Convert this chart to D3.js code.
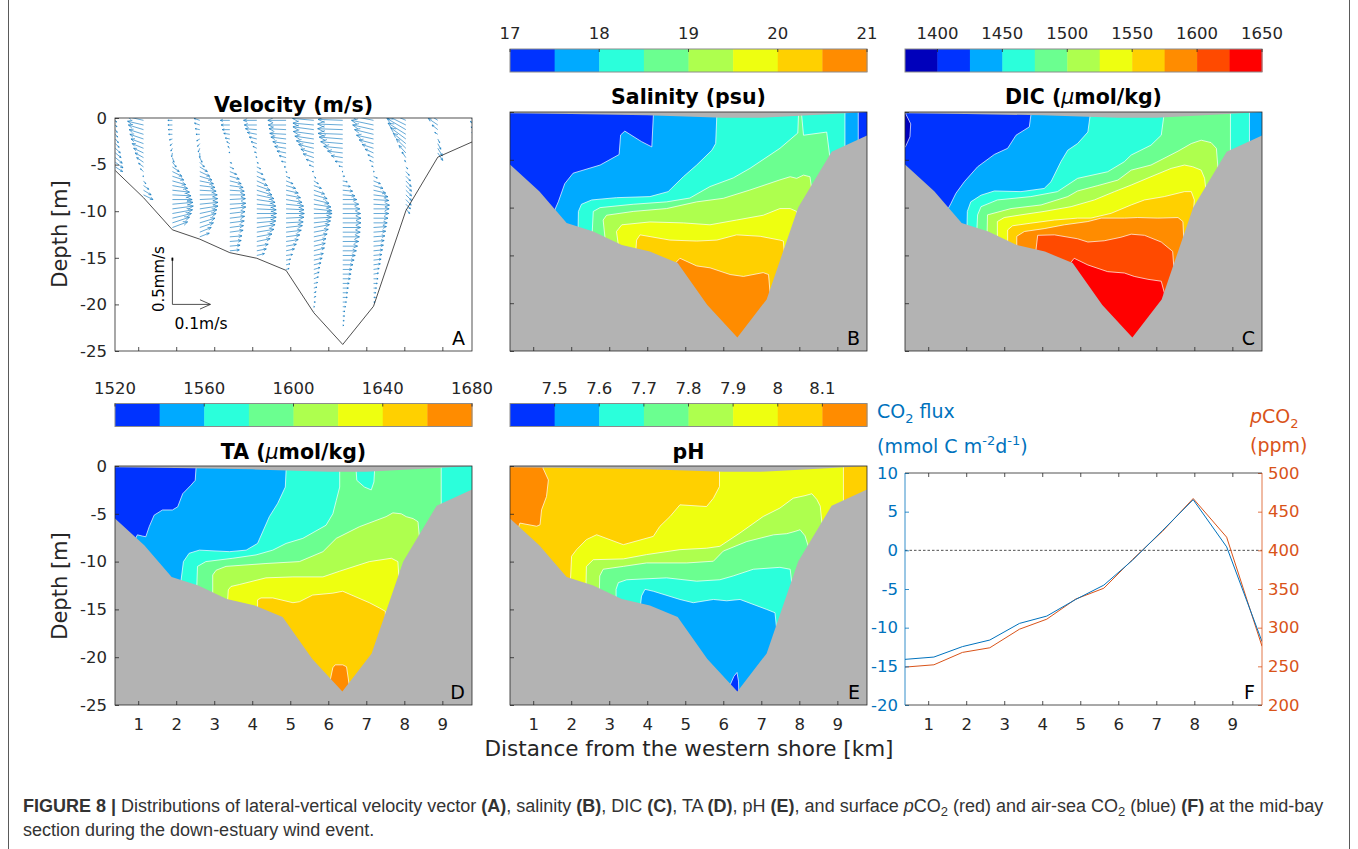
<!DOCTYPE html>
<html>
<head>
<meta charset="utf-8">
<title>Figure 8 - mid-bay section, down-estuary wind event</title>
<script src="https://cdn.jsdelivr.net/npm/d3@7/dist/d3.min.js"></script>
<style>
  body { margin: 0; background: #fff; }
  svg text { font-family: 'DejaVu Sans', sans-serif; }
  svg .caption { font-family: 'Liberation Sans', Arial, sans-serif; }
</style>
</head>
<body>
<svg id="fig" width="1358" height="849"></svg>
<script>
// ============================================================
// Data (km from western shore, depth in m)
// ============================================================
const KM_TICKS = [1, 2, 3, 4, 5, 6, 7, 8, 9];
const DEPTH_TICKS = [-25, -20, -15, -10, -5, 0];

// velocity stations, bottom under each, and profiles (first bin 0.25 m, then every 0.5 m)
const velStations = [0.4, 1.14, 1.9, 2.62, 3.41, 4.12, 4.89, 5.62, 6.38, 7.19, 8.04, 8.88, 9.82];
const velBottom = [-5.65, -8.55, -12.0, -13.0, -14.45, -15.05, -16.35, -20.9, -24.3, -20.2, -9.95, -4.2, -2.5];
const velU = [ // lateral velocity, m/s
    [0.003, 0.004, 0.005, 0.006, 0.008, 0.01, 0.013, 0.015, 0.018, 0.02, 0.019],
    [-0.043, -0.042, -0.04, -0.038, -0.036, -0.033, -0.03, -0.026, -0.022, -0.018, -0.013, -0.008, -0.002, 0.006, 0.014, 0.02, 0.025],
    [-0.012, -0.012, -0.011, -0.01, -0.008, -0.006, -0.004, -0.002, 0.004, 0.01, 0.018, 0.025, 0.03, 0.035, 0.04, 0.045, 0.049, 0.052, 0.054, 0.055, 0.053, 0.05, 0.045, 0.04],
    [-0.015, -0.014, -0.012, -0.01, -0.008, -0.006, -0.004, 0, 0.006, 0.012, 0.02, 0.026, 0.032, 0.036, 0.04, 0.043, 0.046, 0.047, 0.048, 0.048, 0.045, 0.043, 0.04, 0.036, 0.03, 0.025],
    [-0.025, -0.023, -0.02, -0.016, -0.012, -0.008, -0.005, -0.002, 0, 0.005, 0.01, 0.018, 0.025, 0.03, 0.035, 0.038, 0.04, 0.041, 0.042, 0.042, 0.04, 0.039, 0.038, 0.036, 0.035, 0.032, 0.03, 0.027, 0.025],
    [-0.035, -0.033, -0.03, -0.025, -0.02, -0.015, -0.01, -0.006, -0.002, 0.004, 0.01, 0.016, 0.022, 0.028, 0.035, 0.04, 0.045, 0.048, 0.05, 0.051, 0.052, 0.051, 0.05, 0.048, 0.045, 0.04, 0.035, 0.03, 0.025, 0.02],
    [-0.048, -0.047, -0.045, -0.043, -0.04, -0.035, -0.03, -0.024, -0.018, -0.012, -0.005, 0.002, 0.01, 0.018, 0.025, 0.032, 0.038, 0.042, 0.046, 0.047, 0.048, 0.047, 0.045, 0.043, 0.04, 0.036, 0.032, 0.027, 0.022, 0.017, 0.012, 0.01, 0.008],
    [-0.056, -0.055, -0.055, -0.054, -0.05, -0.046, -0.04, -0.034, -0.028, -0.02, -0.012, -0.004, 0.005, 0.012, 0.02, 0.028, 0.035, 0.04, 0.045, 0.047, 0.048, 0.046, 0.044, 0.041, 0.038, 0.035, 0.032, 0.03, 0.028, 0.025, 0.022, 0.019, 0.016, 0.014, 0.012, 0.01, 0.008, 0.006, 0.005, 0.004, 0.002, 0.001],
    [-0.065, -0.066, -0.066, -0.065, -0.062, -0.058, -0.05, -0.04, -0.03, -0.02, -0.01, -0.002, 0.005, 0.012, 0.02, 0.026, 0.032, 0.037, 0.042, 0.045, 0.047, 0.048, 0.048, 0.047, 0.046, 0.044, 0.042, 0.039, 0.036, 0.033, 0.03, 0.027, 0.024, 0.022, 0.02, 0.017, 0.015, 0.013, 0.012, 0.01, 0.008, 0.006, 0.005, 0.004, 0.003],
    [-0.06, -0.058, -0.055, -0.05, -0.045, -0.038, -0.03, -0.022, -0.015, -0.01, -0.005, 0.002, 0.01, 0.018, 0.025, 0.032, 0.038, 0.04, 0.042, 0.041, 0.04, 0.038, 0.036, 0.034, 0.032, 0.03, 0.028, 0.026, 0.024, 0.022, 0.02, 0.018, 0.015, 0.013, 0.012, 0.01, 0.008, 0.006, 0.005, 0.004],
    [-0.055, -0.054, -0.05, -0.047, -0.04, -0.033, -0.025, -0.018, -0.01, -0.003, 0.005, 0.009, 0.012, 0.014, 0.015, 0.015, 0.015, 0.014, 0.012, 0.01],
    [-0.03, -0.025, -0.015, -0.008, 0.005, 0.008, 0.012, 0.013],
    [-0.01, -0.008, -0.006, -0.004, -0.003]
];
const velW = [ // vertical velocity, mm/s
    [-0.02, -0.02, -0.03, -0.03, -0.04, -0.04, -0.05, -0.05, -0.06, -0.06, -0.05],
    [0.04, 0.04, 0.05, 0.05, 0.05, 0.05, 0.05, 0.05, 0.05, 0.05, 0.04, 0.03, 0, -0.03, -0.04, -0.05, -0.05],
    [0, 0, 0, 0, -0.01, -0.02, -0.03, -0.04, -0.05, -0.05, -0.05, -0.05, -0.04, -0.04, -0.03, -0.02, -0.01, 0, 0.02, 0.03, 0.04, 0.05, 0.06, 0.06],
    [0.02, 0.02, 0.01, 0, -0.02, -0.03, -0.04, -0.05, -0.05, -0.05, -0.05, -0.05, -0.04, -0.03, -0.02, -0.01, 0, 0.01, 0.02, 0.03, 0.04, 0.05, 0.05, 0.05, 0.05, 0.04],
    [0, 0, 0, 0.01, 0.01, 0.02, 0.02, 0.01, 0, -0.01, -0.02, -0.03, -0.03, -0.03, -0.02, -0.01, 0, 0.01, 0.01, 0.02, 0.02, 0.02, 0.02, 0.02, 0.02, 0.01, 0.01, 0.01, 0.01],
    [0, 0, 0.01, 0.02, 0.02, 0.02, 0.02, 0.01, 0.01, -0.01, -0.02, -0.03, -0.04, -0.05, -0.05, -0.05, -0.04, -0.03, -0.02, -0.01, 0, 0.01, 0.02, 0.03, 0.03, 0.03, 0.03, 0.02, 0.02, 0.02],
    [0, 0, 0.01, 0.01, 0.02, 0.02, 0.02, 0.02, 0.02, 0.01, 0, -0.01, -0.02, -0.03, -0.03, -0.03, -0.03, -0.03, -0.02, -0.01, 0, 0.01, 0.01, 0.02, 0.02, 0.02, 0.02, 0.02, 0.02, 0.01, 0.01, 0.01, 0.01],
    [0.02, 0.02, 0.03, 0.03, 0.03, 0.03, 0.04, 0.04, 0.04, 0.03, 0.02, 0, -0.02, -0.03, -0.03, -0.04, -0.04, -0.04, -0.03, -0.02, 0, 0.01, 0.02, 0.03, 0.03, 0.03, 0.03, 0.03, 0.03, 0.02, 0.02, 0.02, 0.02, 0.02, 0.02, 0.01, 0.01, 0.01, 0.01, 0, 0, 0],
    [0.01, 0.01, 0.01, 0.01, 0.02, 0.02, 0.02, 0.02, 0.02, 0.01, 0.01, 0, 0, -0.01, -0.01, -0.01, -0.01, 0, 0, 0, 0, 0, 0, 0, 0, 0, 0, 0, 0, 0, 0, 0, 0, 0, 0, 0, 0, 0, 0, 0, 0, 0, 0, 0, 0],
    [0.05, 0.05, 0.05, 0.05, 0.04, 0.04, 0.04, 0.04, 0.03, 0.02, 0.01, 0, -0.02, -0.03, -0.03, -0.03, -0.02, -0.01, -0.01, 0, 0, 0, 0, 0.01, 0.01, 0.01, 0.01, 0.01, 0.01, 0.01, 0.01, 0.01, 0.01, 0.01, 0, 0, 0, 0, 0, 0],
    [0.1, 0.11, 0.12, 0.12, 0.12, 0.11, 0.1, 0.08, 0.06, 0.02, -0.02, -0.04, -0.05, -0.06, -0.06, -0.06, -0.06, -0.06, -0.05, -0.05],
    [0.08, 0.07, 0.05, 0.02, -0.04, -0.06, -0.08, -0.08],
    [0.05, 0.04, 0.03, 0.025, 0.02]
];
const velRefU = 0.1;   // m/s, reference arrow
const velRefW = 0.5;   // mm/s, reference bar
const velRefAt = [1.9, -20];

// bathymetry and sea surface for the contoured sections
const bottom = [[0.39, -5.5], [1.16, -8.3], [1.88, -11.6], [2.58, -12.5], [3.33, -13.9], [4.07, -14.6],
    [4.8, -15.8], [5.58, -20.2], [6.37, -23.6], [7.14, -19.6], [7.97, -10.0], [8.85, -4.15], [9.78, -2.45]];
const surface = [[0.39, -0.12], [2, -0.2], [4, -0.35], [6, -0.6], [7, -0.6], [8.5, -0.3], [9.78, 0]];

// salinity: regions where S >= 17.5, 18, ..., 20.5
const salTicks = [17, 18, 19, 20, 21];
const salBands = [
    [[4.17, 1], [4.16, -0.4], [4.12, -3.65], [3.85, -3.1], [3.41, -2.0], [3.3, -2.4], [3.26, -4.45], [2.76, -5.55], [2.05, -6.4], [1.83, -7.5], [1.66, -9.4], [1.55, -10.4], [1.5, -30], [9.55, -30], [9.55, 1]],
    [[5.83, 1], [5.83, -0.35], [5.8, -3.3], [5.7, -4.0], [5.3, -5.55], [4.95, -6.77], [4.55, -8.33], [4.07, -8.85], [3.19, -8.96], [2.54, -9.2], [2.27, -9.65], [2.19, -10.4], [2.18, -12.3], [2.18, -30], [9.2, -30], [9.2, 1]],
    [[2.55, -30], [2.55, -12.8], [2.58, -10.4], [2.76, -10.0], [3.63, -9.65], [4.51, -9.4], [5.12, -9.0], [5.65, -7.8], [6.26, -6.9], [6.7, -5.9], [7.49, -3.8], [7.96, -2.2], [7.99, 1], [8.03, 1], [8.11, -2.43], [8.72, -2.1], [8.8, -4.6], [8.9, -30]],
    [[2.89, -30], [2.89, -13.2], [2.84, -11.3], [2.93, -10.8], [3.63, -10.4], [4.51, -10.1], [5.3, -9.4], [6.0, -9.03], [6.7, -8.16], [7.49, -7.1], [7.76, -6.77], [7.93, -6.94], [8.11, -6.6], [8.28, -6.77], [8.33, -8.2], [8.4, -30]],
    [[3.24, -30], [3.24, -13.9], [3.19, -12.5], [3.33, -11.8], [4.07, -11.5], [4.95, -11.6], [5.65, -11.8], [6.35, -11.3], [7.05, -10.8], [7.49, -10.1], [7.76, -10.1], [7.93, -10.4], [7.95, -11], [8.0, -30]],
    [[3.7, -30], [3.7, -14.5], [3.72, -13.4], [3.81, -12.85], [4.6, -13.4], [5.3, -13.5], [5.83, -13.4], [6.35, -12.85], [6.97, -13.0], [7.49, -13.4], [7.58, -13.5], [7.6, -14.5], [7.65, -30]],
    [[4.72, -30], [4.74, -15.8], [4.86, -15.3], [5.3, -16.1], [5.65, -16.3], [6.18, -17.0], [6.53, -17.2], [7.05, -16.8], [7.19, -17.0], [7.23, -18.9], [7.3, -30]]
];

// DIC: regions where DIC >= 1400, 1425, ..., 1625
const dicTicks = [1400, 1450, 1500, 1550, 1600, 1650];
const dicBands = [
    [[0.41, 1], [0.41, -0.2], [0.54, -1.24], [0.52, -2.6], [0.4, -3.65], [0.2, -3.7], [0.2, -30], [10, -30], [10, 1]],
    [[3.7, 1], [3.7, -0.35], [3.66, -1.56], [3.31, -2.43], [3.09, -3.8], [2.74, -4.44], [2.3, -5.73], [1.95, -7.3], [1.73, -8.5], [1.6, -9.55], [1.5, -10.3], [1.45, -30], [10, -30], [10, 1]],
    [[5.26, 1], [5.26, -0.35], [5.2, -2.1], [4.93, -3.3], [4.67, -4.0], [4.49, -5.2], [4.23, -7.3], [4.05, -8.0], [3.44, -8.33], [2.74, -8.26], [2.39, -8.7], [2.12, -9.4], [2.03, -10.4], [2.02, -12.2], [2.0, -30], [9.45, -30], [9.45, 1]],
    [[7.2, 1], [7.2, -0.35], [7.13, -2.43], [6.86, -3.47], [6.34, -4.5], [6.16, -5.2], [5.72, -6.25], [4.93, -6.94], [4.4, -8.33], [3.7, -8.85], [2.82, -9.2], [2.39, -9.9], [2.3, -10.76], [2.28, -12.4], [2.28, -30], [8.95, -30], [8.95, 1]],
    [[2.55, -30], [2.55, -12.7], [2.56, -10.76], [3.18, -10.1], [3.97, -9.72], [4.67, -8.85], [4.93, -8.26], [5.46, -7.7], [5.99, -7.12], [6.34, -6.08], [6.86, -5.55], [7.57, -4.1], [7.92, -3.3], [8.18, -2.95], [8.44, -3.2], [8.58, -3.8], [8.62, -5.8], [8.7, -30]],
    [[2.82, -30], [2.82, -13.1], [2.82, -11.46], [3.0, -11.04], [3.44, -10.76], [4.05, -10.4], [4.76, -9.9], [5.37, -9.2], [5.9, -8.33], [6.34, -7.64], [6.86, -6.77], [7.39, -5.9], [7.74, -5.55], [7.96, -5.73], [8.18, -6.08], [8.27, -6.94], [8.3, -8.0], [8.35, -30]],
    [[3.09, -30], [3.09, -13.6], [3.09, -12.33], [3.22, -11.9], [3.7, -11.63], [4.32, -11.3], [4.93, -11.1], [5.28, -11.1], [5.81, -10.6], [6.34, -9.72], [6.69, -9.2], [7.21, -8.85], [7.74, -8.33], [7.92, -8.33], [8.0, -9.2], [7.98, -10.3], [8.0, -30]],
    [[3.33, -30], [3.33, -14.1], [3.33, -13.0], [3.53, -12.5], [4.05, -12.2], [4.58, -11.8], [5.2, -11.46], [5.55, -11.1], [6.16, -11.1], [6.51, -11.04], [7.04, -11.1], [7.57, -11.04], [7.7, -11.46], [7.72, -13.1], [7.8, -30]],
    [[3.83, -30], [3.83, -14.6], [3.88, -12.9], [4.32, -12.85], [4.93, -13.26], [5.2, -13.6], [5.63, -13.47], [6.07, -13.1], [6.34, -12.78], [6.69, -12.9], [7.13, -13.6], [7.43, -14.58], [7.46, -16.2], [7.5, -30]],
    [[4.72, -30], [4.74, -15.8], [4.84, -15.3], [5.2, -16.0], [5.72, -16.7], [6.16, -16.84], [6.42, -17.2], [6.78, -17.5], [7.13, -17.7], [7.21, -18.9], [7.3, -30]]
];

// TA: regions where TA >= 1540, 1560, ..., 1660
const taTicks = [1520, 1560, 1600, 1640, 1680];
const taBands = [
    [[2.52, 1], [2.52, -0.28], [2.5, -1.5], [2.39, -2.0], [2.17, -2.9], [2.04, -4.27], [1.9, -4.6], [1.64, -4.6], [1.42, -5.14], [1.29, -6.35], [1.2, -7.4], [1.11, -7.33], [0.98, -7.2], [0.9, -7.8], [0.9, -30], [10, -30], [10, 1]],
    [[4.89, 1], [4.89, -0.45], [4.87, -2.2], [4.67, -3.9], [4.45, -5.3], [4.14, -8.1], [3.84, -8.8], [3.4, -8.96], [2.61, -8.8], [2.34, -9.13], [2.19, -10.0], [2.12, -12.2], [2.1, -30], [10, -30], [10, 1]],
    [[6.3, 1], [6.3, -2.2], [6.21, -3.6], [6.12, -5.0], [5.94, -6.2], [5.33, -7.57], [4.89, -8.1], [4.54, -8.8], [4.1, -9.3], [3.49, -9.65], [2.78, -10.0], [2.56, -10.5], [2.54, -12.8], [2.54, -30], [8.97, -30], [8.97, 1], [7.22, 1], [7.22, -0.3], [7.2, -1.67], [7.13, -2.5], [6.95, -2.2], [6.75, -1.5], [6.73, -0.3], [6.73, 1]],
    [[2.96, -30], [2.96, -13.4], [2.96, -11.4], [3.05, -10.9], [3.31, -10.5], [4.36, -10.2], [5.24, -10.0], [5.86, -8.96], [6.21, -7.57], [6.82, -6.35], [7.52, -5.3], [7.7, -4.9], [7.92, -5.0], [8.05, -5.3], [8.23, -5.5], [8.36, -5.83], [8.4, -7.6], [8.45, -30]],
    [[3.35, -30], [3.35, -14.2], [3.37, -12.95], [3.44, -12.6], [3.66, -12.4], [4.36, -11.7], [5.07, -11.6], [5.86, -11.6], [6.3, -11.0], [7.08, -10.0], [7.66, -9.65], [7.83, -10.0], [7.86, -11.8], [7.9, -30]],
    [[4.14, -30], [4.14, -15.0], [4.14, -14.0], [4.23, -13.8], [4.54, -13.8], [5.07, -14.3], [5.24, -14.2], [5.59, -13.5], [6.12, -13.3], [6.38, -13.1], [7.08, -14.3], [7.35, -14.86], [7.5, -15.2], [7.52, -30]],
    [[6.0, -30], [6.05, -22.4], [6.12, -21.1], [6.18, -20.8], [6.38, -20.8], [6.48, -21.0], [6.55, -22.9], [6.6, -30]]
];

// pH: regions where pH <= 8.1, 8.0, ..., 7.5
const phTicks = [7.5, 7.6, 7.7, 7.8, 7.9, 8, 8.1];
const phBands = [
    [[1.26, 1], [1.26, -0.24], [1.4, -1.46], [1.35, -3.2], [1.22, -4.58], [1.18, -6.15], [1.09, -6.3], [0.65, -5.97], [0.6, -6.6], [0.3, -6.6], [0.3, -30], [10, -30], [10, 1]],
    [[5.9, 1], [5.9, -2.15], [5.74, -3.37], [5.56, -4.24], [4.86, -4.06], [4.6, -5.28], [4.33, -6.32], [4.16, -7.36], [3.37, -8.23], [2.67, -7.19], [2.4, -7.7], [2.14, -8.75], [2.01, -9.44], [1.98, -12.0], [1.95, -30], [9.16, -30], [9.16, 1]],
    [[2.39, -30], [2.39, -12.4], [2.4, -10.5], [2.58, -9.8], [3.37, -9.72], [3.98, -9.27], [4.86, -8.75], [5.56, -8.6], [5.91, -8.4], [6.44, -7.0], [7.05, -5.28], [7.49, -4.4], [7.84, -3.37], [8.15, -3.1], [8.33, -2.9], [8.46, -3.5], [8.55, -4.2], [8.6, -6.2], [8.65, -30]],
    [[2.74, -30], [2.74, -13.0], [2.75, -11.5], [2.84, -10.8], [3.37, -10.5], [3.98, -10.14], [5.04, -10.14], [5.74, -9.96], [6.0, -8.9], [6.62, -7.9], [7.32, -7.2], [7.67, -7.08], [7.89, -6.84], [8.02, -6.67], [8.15, -7.3], [8.25, -8.6], [8.3, -30]],
    [[3.18, -30], [3.18, -13.9], [3.18, -12.9], [3.24, -12.2], [3.46, -11.9], [4.51, -11.7], [5.3, -12.05], [5.91, -11.9], [6.26, -11.5], [6.79, -10.8], [7.49, -10.6], [7.76, -10.8], [7.8, -12.2], [7.85, -30]],
    [[3.82, -30], [3.82, -14.6], [3.85, -13.6], [3.94, -12.9], [4.16, -13.1], [4.86, -13.96], [5.21, -14.3], [5.74, -13.96], [6.09, -14.1], [6.44, -13.96], [7.14, -15.0], [7.36, -15.35], [7.4, -16.9], [7.45, -30]],
    [[6.1, -30], [6.18, -22.9], [6.28, -22.0], [6.36, -21.6], [6.4, -22.5], [6.45, -30]]
];

// surface pCO2 and air-sea CO2 flux
const surfKm = [0.39, 1.15, 1.9, 2.62, 3.4, 4.12, 4.88, 5.62, 6.37, 7.17, 7.97, 8.85, 9.78];
const co2Flux = [-14.1, -13.8, -12.45, -11.6, -9.45, -8.5, -6.35, -4.5, -1.3, 2.6, 6.55, 0.45, -11.8];
const pco2 = [249, 252, 268, 274, 298, 311, 337, 351, 388, 425, 467, 417, 276];
const fluxTicks = [-20, -15, -10, -5, 0, 5, 10];
const pco2Ticks = [200, 250, 300, 350, 400, 450, 500];

// ============================================================
// Look
// ============================================================
const JET8 = ['#0033FF', '#00AAFF', '#2BFFDB', '#6BFF90', '#AEFF4E', '#EEFF10', '#FFD000', '#FF8C00'];
const JET11 = ['#0000BB', '#0033FF', '#00AAFF', '#2BFFDB', '#6BFF90', '#AEFF4E', '#EEFF10', '#FFD000', '#FF8C00', '#FF4A00', '#FF0000'];
const GRAY = '#B3B3B3';
const INK = '#262626';
const BLUE = '#0072BD';
const ORANGE = '#D95319';
const TICK_FS = 16.5;

const XDOM = [0.39, 9.78];
const YDOM = [-25, 0];
const PANELS = {
    A: { x: 115, y: 118, w: 357, h: 233, title: 'Velocity (m/s)', tb: 112 },
    B: { x: 510, y: 112, w: 357, h: 239, title: 'Salinity (psu)', tb: 104 },
    C: { x: 905, y: 112, w: 357, h: 239, title: 'DIC', unit: true, tb: 104 },
    D: { x: 115, y: 466, w: 357, h: 239, title: 'TA', unit: true, tb: 459 },
    E: { x: 510, y: 466, w: 357, h: 239, title: 'pH', tb: 459 },
    F: { x: 905, y: 473, w: 357, h: 232 }
};

const svg = d3.select('#fig');

// outer frame of the figure box
svg.append('rect').attr('x', 8.5).attr('y', -5).attr('width', 1341).attr('height', 870)
    .attr('fill', 'none').attr('stroke', '#5a5a5a').attr('stroke-width', 1);

// ============================================================
// Helpers
// ============================================================
function scalesFor(p) {
    return {
        x: d3.scaleLinear().domain(XDOM).range([p.x, p.x + p.w]),
        y: d3.scaleLinear().domain(YDOM).range([p.y + p.h, p.y])
    };
}

function clipped(id, p) {
    svg.append('clipPath').attr('id', id).append('rect')
        .attr('x', p.x).attr('y', p.y).attr('width', p.w).attr('height', p.h);
    return svg.append('g').attr('clip-path', `url(#${id})`);
}

function styleAxis(g, color) {
    g.select('.domain').remove();
    g.selectAll('line').attr('stroke', color).attr('stroke-width', 0.8);
    g.selectAll('text').attr('fill', color).attr('font-size', TICK_FS)
        .attr('font-family', "'DejaVu Sans', sans-serif");
}

function depthAxes(p, x, y, showX, showY) {
    const gx = svg.append('g').attr('transform', `translate(0,${p.y + p.h})`)
        .call(d3.axisBottom(x).tickValues(KM_TICKS).tickSizeInner(-4).tickSizeOuter(0).tickPadding(13)
            .tickFormat(showX ? String : () => ''));
    styleAxis(gx, INK);
    const gy = svg.append('g').attr('transform', `translate(${p.x},0)`)
        .call(d3.axisLeft(y).tickValues(DEPTH_TICKS).tickSizeInner(-4).tickSizeOuter(0).tickPadding(8)
            .tickFormat(showY ? String : () => ''));
    styleAxis(gy, INK);
    svg.append('rect').attr('x', p.x).attr('y', p.y).attr('width', p.w).attr('height', p.h)
        .attr('fill', 'none').attr('stroke', INK).attr('stroke-width', 0.8);
}

function title(p) {
    const t = svg.append('text').attr('x', p.x + p.w / 2).attr('y', p.tb)
        .attr('text-anchor', 'middle').attr('font-size', 20.5).attr('font-weight', 'bold').attr('fill', '#000');
    t.append('tspan').text(p.title);
    if (p.unit) {
        t.append('tspan').text(' (');
        t.append('tspan').attr('font-weight', 'normal').attr('font-style', 'italic').text('\u03bc');
        t.append('tspan').text('mol/kg)');
    }
}

function letter(p, txt) {
    svg.append('text').attr('x', p.x + p.w - 7).attr('y', p.y + p.h - 6)
        .attr('text-anchor', 'end').attr('font-size', 19).attr('fill', '#000').text(txt);
}

function colorbar(p, y0, domain, colors, ticks) {
    const s = d3.scaleLinear().domain(domain).range([p.x, p.x + p.w]);
    const step = (domain[1] - domain[0]) / colors.length;
    const h = 23;
    const g = svg.append('g');
    g.selectAll('rect.bin').data(colors).join('rect').attr('class', 'bin')
        .attr('x', (c, i) => s(domain[0] + i * step))
        .attr('y', y0)
        .attr('width', (c, i) => s(domain[0] + (i + 1) * step) - s(domain[0] + i * step) + 0.4)
        .attr('height', h)
        .attr('fill', c => c);
    g.append('rect').attr('x', p.x).attr('y', y0).attr('width', p.w).attr('height', h)
        .attr('fill', 'none').attr('stroke', '#8c8c8c').attr('stroke-width', 1);
    g.selectAll('line.tk').data(ticks).join('line').attr('class', 'tk')
        .attr('x1', d => s(d)).attr('x2', d => s(d)).attr('y1', y0).attr('y2', y0 + 3)
        .attr('stroke', INK).attr('stroke-width', 0.8);
    g.selectAll('text').data(ticks).join('text')
        .attr('x', d => s(d)).attr('y', y0 - 10).attr('text-anchor', 'middle')
        .attr('font-size', TICK_FS).attr('fill', INK).text(d => String(d));
}

// contour section: background colour, nested regions, land + surface mask
function section(key, bands, colors, descending, showX, showY) {
    const p = PANELS[key];
    const { x, y } = scalesFor(p);
    const g = clipped('clip' + key, p);
    const line = d3.line().x(d => x(d[0])).y(d => y(d[1]));
    const n = colors.length;

    g.append('rect').attr('x', p.x).attr('y', p.y).attr('width', p.w).attr('height', p.h)
        .attr('fill', descending ? colors[n - 1] : colors[0]);
    g.selectAll('path.band').data(bands).join('path').attr('class', 'band')
        .attr('d', d => line(d) + 'Z')
        .attr('fill', (d, i) => descending ? colors[n - 2 - i] : colors[i + 1])
        .attr('stroke', '#fff').attr('stroke-width', 0.7).attr('stroke-linejoin', 'round');

    const last = bottom[bottom.length - 1];
    const land = [[XDOM[0] - 1, bottom[0][1]], ...bottom, [XDOM[1] + 1, last[1]], [XDOM[1] + 1, -30], [XDOM[0] - 1, -30]];
    g.append('path').attr('d', line(land) + 'Z').attr('fill', GRAY);
    const sky = [[XDOM[0] - 1, surface[0][1]], ...surface, [XDOM[1] + 1, 0], [XDOM[1] + 1, 2], [XDOM[0] - 1, 2]];
    g.append('path').attr('d', line(sky) + 'Z').attr('fill', GRAY);

    depthAxes(p, x, y, showX, showY);
    title(p);
    letter(p, key);
}

// ============================================================
// Panel A: velocity vectors
// ============================================================
(function velocityPanel() {
    const p = PANELS.A;
    const { x, y } = scalesFor(p);
    const g = clipped('clipA', p);
    const pxPerU = 380;    // px per m/s
    const pxPerW = 93.4;   // px per mm/s

    function arrowPath(x0, y0, dx, dy, head = true) {
        const len = Math.hypot(dx, dy);
        const x1 = x0 + dx, y1 = y0 + dy;
        let d = `M${x0},${y0}L${x1},${y1}`;
        if (head && len > 0.6) {
            const a = Math.atan2(dy, dx), hl = Math.max(1.2, 0.3 * len), sp = 0.42;
            d += `M${x1 - hl * Math.cos(a - sp)},${y1 - hl * Math.sin(a - sp)}L${x1},${y1}` +
                 `L${x1 - hl * Math.cos(a + sp)},${y1 - hl * Math.sin(a + sp)}`;
        }
        return d;
    }

    const arrows = [];
    velStations.forEach((km, j) => {
        velU[j].forEach((u, i) => {
            arrows.push({ km, depth: -(0.25 + 0.5 * i), u, w: velW[j][i] || 0 });
        });
    });
    g.selectAll('path.arrow').data(arrows).join('path').attr('class', 'arrow')
        .attr('d', d => arrowPath(x(d.km), y(d.depth), d.u * pxPerU, -d.w * pxPerW))
        .attr('fill', 'none').attr('stroke', BLUE).attr('stroke-width', 0.75).attr('stroke-opacity', 0.8);

    g.append('path')
        .datum(velStations.map((km, j) => [km, velBottom[j]]))
        .attr('d', d3.line().x(d => x(d[0])).y(d => y(d[1])))
        .attr('fill', 'none').attr('stroke', '#222').attr('stroke-width', 0.8);

    // reference vectors
    const rx = x(velRefAt[0]), ry = y(velRefAt[1]);
    svg.append('path').attr('d', arrowPath(rx, ry, velRefU * pxPerU, 0))
        .attr('fill', 'none').attr('stroke', INK).attr('stroke-width', 0.8);
    svg.append('path').attr('d', `M${rx},${ry}L${rx},${ry - velRefW * pxPerW}`)
        .attr('fill', 'none').attr('stroke', INK).attr('stroke-width', 0.8);
    svg.append('line').attr('x1', rx).attr('x2', rx).attr('y1', ry - velRefW * pxPerW)
        .attr('y2', ry - velRefW * pxPerW + 3).attr('stroke', '#000').attr('stroke-width', 1.8);
    svg.append('text').attr('transform', `translate(${rx - 8},${ry - velRefW * pxPerW / 2 - 2}) rotate(-90)`)
        .attr('text-anchor', 'middle').attr('font-size', 15).attr('fill', '#000').text(velRefW + 'mm/s');
    svg.append('text').attr('x', rx + 2).attr('y', ry + 25)
        .attr('font-size', 15.5).attr('fill', '#000').text(velRefU + 'm/s');

    depthAxes(p, x, y, false, true);
    title(p);
    letter(p, 'A');
})();

// ============================================================
// Panels B-E: contoured sections with colour bars
// ============================================================
section('B', salBands, JET8, false, false, false);
section('C', dicBands, JET11, false, false, false);
section('D', taBands, JET8, false, true, true);
section('E', phBands, JET8, true, true, false);

colorbar(PANELS.B, 49, [17, 21], JET8, salTicks);
colorbar(PANELS.C, 49, [1375, 1650], JET11, dicTicks);
colorbar(PANELS.D, 403.5, [1520, 1680], JET8, taTicks);
colorbar(PANELS.E, 403.5, [7.4, 8.2], JET8, phTicks);

// ============================================================
// Panel F: surface pCO2 and air-sea CO2 flux
// ============================================================
(function surfacePanel() {
    const p = PANELS.F;
    const x = d3.scaleLinear().domain(XDOM).range([p.x, p.x + p.w]);
    const yFlux = d3.scaleLinear().domain([-20, 10]).range([p.y + p.h, p.y]);
    const yP = d3.scaleLinear().domain([200, 500]).range([p.y + p.h, p.y]);
    const g = clipped('clipF', p);

    g.append('line').attr('x1', p.x).attr('x2', p.x + p.w).attr('y1', yFlux(0)).attr('y2', yFlux(0))
        .attr('stroke', '#222').attr('stroke-width', 0.8).attr('stroke-dasharray', '2.5,2');
    g.append('path').datum(surfKm.map((k, i) => [k, pco2[i]]))
        .attr('d', d3.line().x(d => x(d[0])).y(d => yP(d[1])))
        .attr('fill', 'none').attr('stroke', ORANGE).attr('stroke-width', 1);
    g.append('path').datum(surfKm.map((k, i) => [k, co2Flux[i]]))
        .attr('d', d3.line().x(d => x(d[0])).y(d => yFlux(d[1])))
        .attr('fill', 'none').attr('stroke', BLUE).attr('stroke-width', 1);

    const gx = svg.append('g').attr('transform', `translate(0,${p.y + p.h})`)
        .call(d3.axisBottom(x).tickValues(KM_TICKS).tickSizeInner(-4).tickSizeOuter(0).tickPadding(13).tickFormat(String));
    styleAxis(gx, INK);
    const gt = svg.append('g').attr('transform', `translate(0,${p.y})`)
        .call(d3.axisTop(x).tickValues(KM_TICKS).tickSizeInner(-4).tickSizeOuter(0).tickFormat(() => ''));
    styleAxis(gt, INK);
    const gl = svg.append('g').attr('transform', `translate(${p.x},0)`)
        .call(d3.axisLeft(yFlux).tickValues(fluxTicks).tickSizeInner(-4).tickSizeOuter(0).tickPadding(7).tickFormat(String));
    styleAxis(gl, BLUE);
    const gr = svg.append('g').attr('transform', `translate(${p.x + p.w},0)`)
        .call(d3.axisRight(yP).tickValues(pco2Ticks).tickSizeInner(-4).tickSizeOuter(0).tickPadding(6).tickFormat(String));
    styleAxis(gr, ORANGE);

    const edge = (x1, y1, x2, y2, c) => svg.append('line').attr('x1', x1).attr('y1', y1).attr('x2', x2).attr('y2', y2)
        .attr('stroke', c).attr('stroke-width', 0.8);
    edge(p.x, p.y, p.x + p.w, p.y, INK);
    edge(p.x, p.y + p.h, p.x + p.w, p.y + p.h, INK);
    edge(p.x, p.y, p.x, p.y + p.h, BLUE);
    edge(p.x + p.w, p.y, p.x + p.w, p.y + p.h, ORANGE);

    const t1 = svg.append('text').attr('x', 877).attr('y', 418).attr('font-size', 19).attr('fill', BLUE);
    t1.append('tspan').text('CO');
    t1.append('tspan').attr('font-size', 13).attr('dy', 5).text('2');
    t1.append('tspan').attr('dy', -5).text(' flux');
    const t2 = svg.append('text').attr('x', 877).attr('y', 453).attr('font-size', 19).attr('fill', BLUE);
    t2.append('tspan').text('(mmol C m');
    t2.append('tspan').attr('font-size', 13).attr('dy', -8).text('-2');
    t2.append('tspan').attr('dy', 8).text('d');
    t2.append('tspan').attr('font-size', 13).attr('dy', -8).text('-1');
    t2.append('tspan').attr('dy', 8).text(')');
    const t3 = svg.append('text').attr('x', 1250).attr('y', 423).attr('font-size', 19).attr('fill', ORANGE);
    t3.append('tspan').attr('font-style', 'italic').text('p');
    t3.append('tspan').text('CO');
    t3.append('tspan').attr('font-size', 13).attr('dy', 5).text('2');
    svg.append('text').attr('x', 1250).attr('y', 452).attr('font-size', 19).attr('fill', ORANGE).text('(ppm)');

    letter(p, 'F');
})();

// ============================================================
// Shared axis labels and caption
// ============================================================
[586, 234].forEach(cy => {
    svg.append('text').attr('transform', `translate(67,${cy}) rotate(-90)`)
        .attr('text-anchor', 'middle').attr('font-size', 21).attr('fill', INK).text('Depth [m]');
});
svg.append('text').attr('x', 689).attr('y', 756).attr('text-anchor', 'middle')
    .attr('font-size', 21.5).attr('fill', INK).text('Distance from the western shore [km]');

const captionLines = [
    [['FIGURE 8 |', 'b'], [' Distributions of lateral-vertical velocity vector ', ''], ['(A)', 'b'], [', salinity ', ''], ['(B)', 'b'],
     [', DIC ', ''], ['(C)', 'b'], [', TA ', ''], ['(D)', 'b'], [', pH ', ''], ['(E)', 'b'], [', and surface ', ''],
     ['p', 'i'], ['CO', ''], ['2', 'sub'], [' (red) and air-sea CO', ''], ['2', 'sub'], [' (blue) ', ''], ['(F)', 'b'], [' at the mid-bay', '']],
    [['section during the down-estuary wind event.', '']]
];
captionLines.forEach((parts, li) => {
    const t = svg.append('text').attr('class', 'caption').attr('x', 23).attr('y', 812 + li * 24)
        .attr('font-size', 18).attr('fill', '#333');
    let shifted = false;
    parts.forEach(([txt, st]) => {
        const s = t.append('tspan').text(txt);
        if (st === 'b') s.attr('font-weight', 'bold');
        if (st === 'i') s.attr('font-style', 'italic');
        if (st === 'sub') { s.attr('font-size', 13).attr('dy', 4); shifted = true; }
        else if (shifted) { s.attr('dy', -4); shifted = false; }
    });
});
</script>
</body>
</html>
